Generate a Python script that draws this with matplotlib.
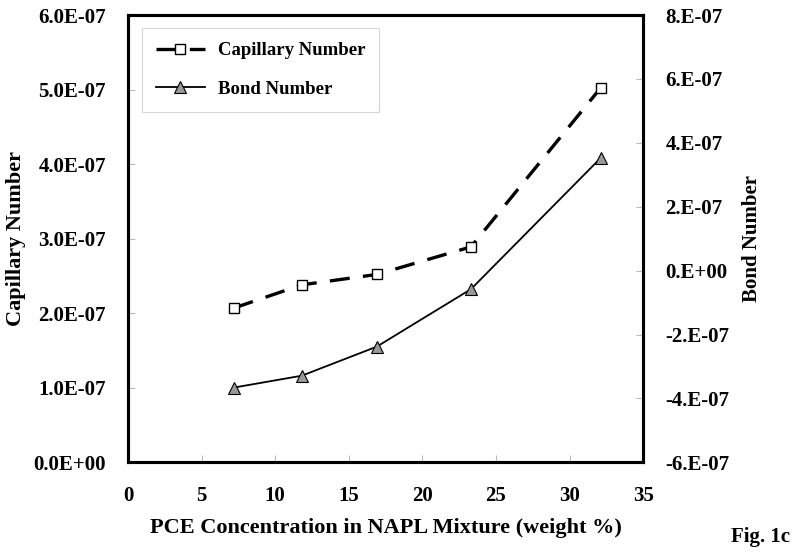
import matplotlib
matplotlib.use("Agg")
import matplotlib.pyplot as plt
from matplotlib.ticker import FuncFormatter

# Data
pce_conc = [7.2, 11.8, 16.9, 23.3, 32.1]
capillary = [2.07e-07, 2.38e-07, 2.52e-07, 2.89e-07, 5.02e-07]
bond = [-3.66e-07, -3.29e-07, -2.38e-07, -0.58e-07, 3.52e-07]

x_ticks = [0, 5, 10, 15, 20, 25, 30, 35]
left_ticks = [0, 1e-07, 2e-07, 3e-07, 4e-07, 5e-07, 6e-07]
right_ticks = [-6e-07, -4e-07, -2e-07, 0, 2e-07, 4e-07, 6e-07, 8e-07]

plt.rcParams['font.family'] = ['Liberation Serif', 'DejaVu Serif']
plt.rcParams['font.weight'] = 'bold'

fig = plt.figure(figsize=(8, 5.56), dpi=100)
ax = fig.add_axes([0.16, 0.1685, 0.644, 0.8045])
ax2 = ax.twinx()

ax.plot(pce_conc, capillary, color='black', lw=2.4, dashes=(6, 4),
        marker='s', ms=7, mfc='white', mec='black', mew=1.0,
        label='Capillary Number')
ax2.plot(pce_conc, bond, color='black', lw=1.3,
         marker='^', ms=8, mfc='#999999', mec='black', mew=0.8,
         label='Bond Number')

ax.set_xlim(0, 35)
ax.set_ylim(0, 6e-07)
ax2.set_ylim(-6e-07, 8e-07)
ax.set_xticks(x_ticks)
ax.set_yticks(left_ticks)
ax2.set_yticks(right_ticks)

def left_fmt(v, pos):
    if abs(v) < 1e-15:
        return '0.0E+00'
    e = int(f"{v:e}".split('e')[1])
    return f"{v/10**e:.1f}E-{abs(e):02d}"

def right_fmt(v, pos):
    if abs(v) < 1e-15:
        return '0.E+00'
    m = round(v / 1e-07)
    return f"{m}.E-07"

ax.yaxis.set_major_formatter(FuncFormatter(left_fmt))
ax2.yaxis.set_major_formatter(FuncFormatter(right_fmt))

for a in (ax, ax2):
    for s in a.spines.values():
        s.set_linewidth(2.2)
    a.tick_params(direction='in', length=5, width=0.8, color='#bbbbbb',
                  labelsize=15, pad=16)
ax.tick_params(axis='x', pad=17)

for lab in ax.get_xticklabels() + ax.get_yticklabels() + ax2.get_yticklabels():
    lab.set_fontweight('bold')

ax.set_xlabel('PCE Concentration in NAPL Mixture (weight %)', fontsize=16,
              fontweight='bold', va='center')
ax.xaxis.set_label_coords(0.5, -0.147)
ax.set_ylabel('Capillary Number', fontsize=16, fontweight='bold', va='center')
ax.yaxis.set_label_coords(-0.2175, 0.5)
ax2.set_ylabel('Bond Number', fontsize=15, fontweight='bold', va='center')
ax2.yaxis.set_label_coords(1.2117, 0.5)

h1, l1 = ax.get_legend_handles_labels()
h2, l2 = ax2.get_legend_handles_labels()
leg = ax.legend(h1 + h2, l1 + l2, loc='upper left',
                bbox_to_anchor=(0.027, 0.971), borderaxespad=0,
                frameon=True, fancybox=False, edgecolor='#cccccc',
                handlelength=2.6, handletextpad=0.7,
                labelspacing=1.15, borderpad=0.75,
                prop={'weight': 'bold', 'size': 13.5})
leg.get_frame().set_linewidth(0.8)

fig.text(0.988, 0.035, 'Fig. 1c', ha='right', va='center', fontsize=15,
         fontweight='bold')

fig.savefig('out.png', dpi=100)
